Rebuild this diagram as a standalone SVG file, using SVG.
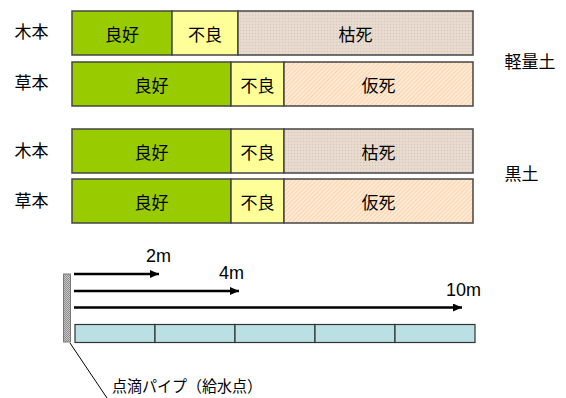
<svg xmlns="http://www.w3.org/2000/svg" width="566" height="398" viewBox="0 0 566 398">
<defs>
<pattern id="dots" width="3" height="3" patternUnits="userSpaceOnUse">
<rect width="3" height="3" fill="#E6D9CC"/>
<rect x="0" y="0" width="1" height="1" fill="#D6C8BB"/>
<rect x="1.5" y="1.5" width="1" height="1" fill="#F0E8E0"/>
</pattern>
<pattern id="stripes" width="3" height="3" patternUnits="userSpaceOnUse" patternTransform="rotate(45)">
<rect width="3" height="3" fill="#FFEAD3"/>
<rect width="1" height="3" fill="#FAD3B0"/>
</pattern>
<pattern id="check" width="2" height="2" patternUnits="userSpaceOnUse">
<rect width="2" height="2" fill="#C8C8C8"/>
<rect width="1" height="1" fill="#8C8C8C"/>
<rect x="1" y="1" width="1" height="1" fill="#8C8C8C"/>
</pattern>
<marker id="ah" markerWidth="9" markerHeight="8" refX="9" refY="4" orient="auto" markerUnits="userSpaceOnUse">
<path d="M0,0 L9,4 L0,8 Z" fill="#000"/>
</marker>
</defs>
<style>
.seg{stroke:#454545;stroke-width:1.5}
.g{fill:#99CC00}
.y{fill:#FFFF99}
.k{fill:url(#dots)}
.f{fill:url(#stripes)}
.t{font-family:"Noto Sans CJK JP","Noto Sans CJK SC",sans-serif;font-size:17px;fill:#000;text-anchor:middle}
.m{font-family:"Liberation Sans",Arial,sans-serif;font-size:18px;fill:#000}
.arr{stroke:#000;stroke-width:2.5;fill:none}
.cell{fill:#BAE0E3;stroke:#333;stroke-width:1.2}
</style>

<g id="labels">
<text class="t" x="31.5" y="38">木本</text>
<text class="t" x="31.5" y="89">草本</text>
<text class="t" x="31.5" y="157">木本</text>
<text class="t" x="31.5" y="207">草本</text>
<text class="t" x="530" y="68">軽量土</text>
<text class="t" x="521.5" y="180">黒土</text>
</g>

<g id="bar1">
<rect class="seg g" x="72" y="11" width="100" height="44"/>
<rect class="seg y" x="172" y="11" width="66" height="44"/>
<rect class="seg k" x="238" y="11" width="235" height="44"/>
<text class="t" x="122" y="41">良好</text>
<text class="t" x="205" y="41">不良</text>
<text class="t" x="355.5" y="41">枯死</text>
</g>

<g id="bar2">
<rect class="seg g" x="72" y="62" width="159" height="44"/>
<rect class="seg y" x="231" y="62" width="53" height="44"/>
<rect class="seg f" x="284" y="62" width="189" height="44"/>
<text class="t" x="151.5" y="91.5">良好</text>
<text class="t" x="257.5" y="91.5">不良</text>
<text class="t" x="378.5" y="91.5">仮死</text>
</g>

<g id="bar3">
<rect class="seg g" x="72" y="129" width="159" height="44"/>
<rect class="seg y" x="231" y="129" width="53" height="44"/>
<rect class="seg k" x="284" y="129" width="189" height="44"/>
<text class="t" x="151.5" y="159">良好</text>
<text class="t" x="257.5" y="159">不良</text>
<text class="t" x="378.5" y="159">枯死</text>
</g>

<g id="bar4">
<rect class="seg g" x="72" y="179" width="159" height="44"/>
<rect class="seg y" x="231" y="179" width="53" height="44"/>
<rect class="seg f" x="284" y="179" width="189" height="44"/>
<text class="t" x="151.5" y="209">良好</text>
<text class="t" x="257.5" y="209">不良</text>
<text class="t" x="378.5" y="209">仮死</text>
</g>

<g id="pipe">
<rect x="63.5" y="274" width="7" height="68" fill="url(#check)" stroke="#7A7A7A" stroke-width="1"/>
</g>

<g id="soil">
<rect class="cell" x="75" y="324.5" width="80" height="18"/>
<rect class="cell" x="155" y="324.5" width="80" height="18"/>
<rect class="cell" x="235" y="324.5" width="80" height="18"/>
<rect class="cell" x="315" y="324.5" width="80" height="18"/>
<rect class="cell" x="395" y="324.5" width="80" height="18"/>
</g>

<g id="connectors">
<line class="arr" x1="74" y1="274" x2="159" y2="274" marker-end="url(#ah)"/>
<line class="arr" x1="74" y1="291" x2="239" y2="291" marker-end="url(#ah)"/>
<line class="arr" x1="74" y1="307.5" x2="462" y2="307.5" marker-end="url(#ah)"/>
<line x1="70" y1="343" x2="107" y2="398" stroke="#000" stroke-width="1"/>
</g>

<g id="dist-labels">
<text class="m" x="146" y="262">2m</text>
<text class="m" x="219" y="279">4m</text>
<text class="m" x="446" y="296" font-size="19">10m</text>
<text x="112" y="392" font-family="Noto Sans CJK JP,sans-serif" font-size="15.5" textLength="150" lengthAdjust="spacingAndGlyphs">点滴パイプ（給水点）</text>
</g>
</svg>
